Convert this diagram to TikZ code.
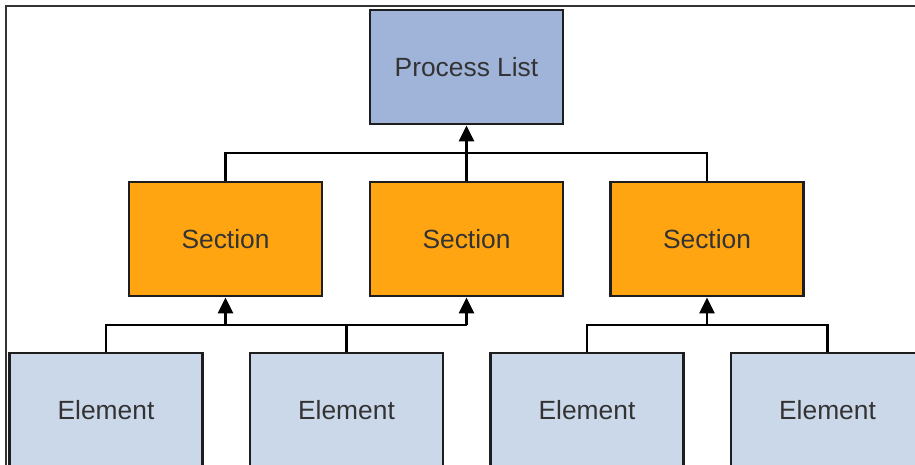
\documentclass[tikz,border=0pt]{standalone}
\usepackage{fontspec}
\setmainfont{Liberation Sans}
\usetikzlibrary{arrows.meta}

\definecolor{listfill}{HTML}{A0B4DA}
\definecolor{sectionfill}{HTML}{FFA512}
\definecolor{elementfill}{HTML}{CBD8EA}
\definecolor{boxline}{HTML}{1E1E1E}
\definecolor{labeltext}{HTML}{333333}

\begin{document}
\begin{tikzpicture}[
    every node/.append style={draw=boxline, line width=1.6pt, minimum width=3.86cm,
        minimum height=2.28cm, inner sep=0pt, text=labeltext, font=\fontsize{15}{18}\selectfont},
    list/.style={fill=listfill},
    section/.style={fill=sectionfill},
    element/.style={fill=elementfill},
    link/.style={draw=black, line width=1.5pt},
    uplink/.style={link, -{Triangle[width=0.3cm, length=0.32cm]}}]
    \useasboundingbox (0,0) rectangle (18.3,9.3);
    \clip (0,0) rectangle (18.3,9.3);
    \draw[gray!40!black, line width=0.6pt] (18.3,9.18) -- (0.12,9.18) -- (0.12,0);

    \node[list] (list_name) at (9.33,7.96) {Process List};
    \node[section] (sec1_name) at (4.51,4.52) {Section};
    \node[section] (sec2_name) at (9.33,4.52) {Section};
    \node[section] (sec3_name) at (14.14,4.52) {Section};
    \node[element] (elem1_name) at (2.12,1.1) {Element};
    \node[element] (elem2_name) at (6.93,1.1) {Element};
    \node[element] (elem3_name) at (11.74,1.1) {Element};
    \node[element] (elem4_name) at (16.55,1.1) {Element};

    \coordinate (top_join) at (9.33,6.24);
    \coordinate (low_join) at (9.33,2.8);

    \draw[link] (sec1_name.north) |- (top_join) -| (sec3_name.north);
    \draw[link] (elem1_name.north) |- (sec2_name.south |- low_join);
    \draw[link] (elem2_name.north) -- (elem2_name.north |- low_join);
    \draw[link] (elem3_name.north) |- (sec3_name.south |- low_join) -| (elem4_name.north);

    \path
        (sec2_name.north) edge[uplink] (list_name.south)
        (sec1_name.south |- low_join) edge[uplink] (sec1_name.south)
        (sec2_name.south |- low_join) edge[uplink] (sec2_name.south)
        (sec3_name.south |- low_join) edge[uplink] (sec3_name.south);
\end{tikzpicture}
\end{document}
